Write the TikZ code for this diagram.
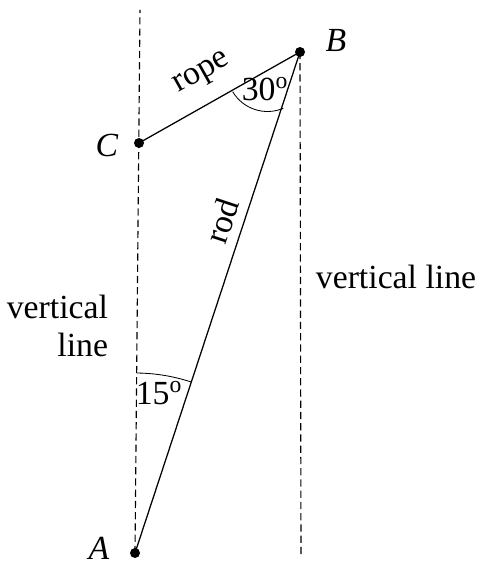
\documentclass[tikz,border=0pt]{standalone}
\usepackage{fontspec}
\setmainfont{Liberation Serif}
\usepackage{tikz}
\usetikzlibrary{arrows.meta}

\begin{document}
\begin{tikzpicture}[x=0.025cm,y=0.025cm,
		every node/.style={font=\fontsize{24}{26.5}\selectfont},
		vline/.style={line width=0.8pt,dash pattern=on 5pt off 3pt},
		bar/.style={line width=0.9pt},
		dot/.style={fill=black}]
		\useasboundingbox (0,0) rectangle (481,565);
		
		% Points
		\coordinate (A) at (135,12);
		\coordinate (B) at (300,513);
		\coordinate (C) at (139,422);
		
		% Ends of the vertical lines
		\coordinate (AT) at (140,555);
		\coordinate (BB) at (301,10);
		
		% Centre of the arc near B (approximate)
		\coordinate (K) at (267.5,494);
		
		% Vertical lines
		\draw[vline] (A) -- (AT);
		\draw[vline] (B) -- (BB);
		
		% Rod and rope
		\draw[bar] (A) -- (B);
		\draw[bar] (C) -- (B);
		
		% Angles
		\draw[line width=0.6pt] (K) ++(210.7:40.5) arc[start angle=210.7,end angle=293,radius=40.5];
		\draw[line width=0.6pt] (A) ++(71.7:180) arc[start angle=71.7,end angle=89.4,radius=180];
		
		% Fill points
		\fill[dot] (A) circle (5);
		\fill[dot] (B) circle (5);
		\fill[dot] (C) circle (5);
		
		% Labels
		\node (labA) at (99,17) {\textit{A}};
		\node (labB) at (336,524) {\textit{B}};
		\node (labC) at (107,420) {\textit{C}};
		\node[rotate=29.3,inner sep=0pt] (rope) at (202.5,490.5) {rope};
		\node[rotate=71.7,inner sep=0pt] (rod) at (222,344) {rod};
		\node[inner sep=0pt] (ang30) at (265,476) {30\textsuperscript{o}};
		\node[inner sep=0pt] (ang15) at (159,172) {15\textsuperscript{o}};
		\node (vlR) at (396,288) {vertical line};
		\node[align=right,anchor=east] (vlL) at (113,239) {vertical\\line};
	\end{tikzpicture}
\end{document}
